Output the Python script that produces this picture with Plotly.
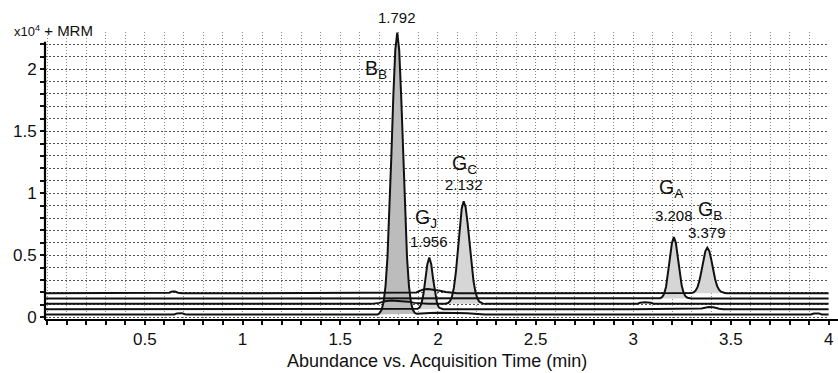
import plotly.graph_objects as go

# ---------------- data (abundance in x10^4 counts, time in min) ----------------
# Trace 1 (top): G_B transition
t_gb = [-0.01, 0.5, 0.60, 0.625, 0.64, 0.655, 0.67, 0.69, 1.0, 1.5, 1.87, 1.89, 1.91, 1.93, 1.95, 1.98,
        2.01, 2.04, 2.07, 2.10, 2.5, 3.0, 3.289, 3.299, 3.309, 3.319, 3.329, 3.339, 3.349, 3.359, 3.369,
        3.379, 3.389, 3.399, 3.409, 3.419, 3.429, 3.439, 3.449, 3.459, 3.469, 3.479, 3.6, 4.0]
a_gb = [0.194, 0.194, 0.194, 0.198, 0.207, 0.207, 0.198, 0.194, 0.194, 0.194, 0.194, 0.200, 0.215, 0.226, 0.228, 0.224,
        0.214, 0.203, 0.196, 0.194, 0.194, 0.194, 0.194, 0.196, 0.201, 0.214, 0.243, 0.296, 0.372, 0.460, 0.532,
        0.560, 0.535, 0.468, 0.383, 0.308, 0.253, 0.222, 0.206, 0.199, 0.196, 0.194, 0.194, 0.194]

# Trace 2: G_A transition
t_ga = [-0.01, 1.0, 2.0, 3.0, 3.128, 3.138, 3.148, 3.158, 3.168, 3.178, 3.188, 3.198, 3.208, 3.218,
        3.228, 3.238, 3.248, 3.258, 3.268, 3.278, 3.288, 3.298, 3.6, 4.0]
a_ga = [0.151, 0.151, 0.151, 0.151, 0.151, 0.154, 0.163, 0.188, 0.246, 0.347, 0.479, 0.598, 0.647, 0.600,
        0.484, 0.355, 0.255, 0.196, 0.168, 0.157, 0.152, 0.151, 0.151, 0.151]

# Trace 3: G_C transition
t_gc = [-0.01, 1.0, 1.66, 1.70, 1.73, 1.76, 1.80, 1.85, 1.88, 1.91, 1.95, 2.032, 2.042, 2.052, 2.062, 2.072,
        2.082, 2.092, 2.102, 2.112, 2.122, 2.132, 2.142, 2.152, 2.162, 2.172, 2.182, 2.192, 2.202, 2.212,
        2.222, 2.232, 2.242, 3.0, 3.02, 3.035, 3.06, 3.09, 3.105, 3.5, 4.0]
a_gc = [0.108, 0.108, 0.108, 0.116, 0.130, 0.136, 0.134, 0.126, 0.116, 0.110, 0.108, 0.108, 0.110, 0.115, 0.130, 0.166,
        0.238, 0.361, 0.533, 0.723, 0.876, 0.935, 0.887, 0.760, 0.593, 0.428, 0.295, 0.205, 0.153, 0.126,
        0.115, 0.110, 0.108, 0.108, 0.108, 0.117, 0.121, 0.117, 0.108, 0.108, 0.108]

# Trace 4: G_J transition
t_gj = [-0.01, 1.0, 1.886, 1.896, 1.906, 1.916, 1.926, 1.936, 1.946, 1.956, 1.966, 1.976, 1.986, 1.996,
        2.006, 2.016, 2.026, 3.0, 3.32, 3.35, 3.385, 3.41, 3.44, 3.46, 4.0]
a_gj = [0.065, 0.065, 0.065, 0.068, 0.078, 0.110, 0.185, 0.304, 0.428, 0.482, 0.428, 0.304, 0.185, 0.110,
        0.078, 0.068, 0.065, 0.065, 0.065, 0.071, 0.083, 0.080, 0.068, 0.065, 0.065]

# Trace 5 (bottom): B_B transition
t_bb = [-0.01, 0.65, 0.665, 0.69, 0.705, 0.72, 1.0, 1.692, 1.702, 1.712, 1.722, 1.732, 1.742, 1.752, 1.762,
        1.772, 1.782, 1.792, 1.802, 1.812, 1.822, 1.832, 1.842, 1.852, 1.862, 1.872, 1.882, 1.892, 1.92,
        1.96, 2.0, 2.05, 2.1, 2.15, 2.2, 2.24, 3.0, 3.91, 3.925, 3.95, 3.965, 3.98, 4.0]
a_bb = [0.022, 0.022, 0.031, 0.033, 0.024, 0.022, 0.022, 0.022, 0.035, 0.060, 0.122, 0.251, 0.484, 0.842, 1.305,
        1.787, 2.155, 2.294, 2.155, 1.787, 1.305, 0.842, 0.484, 0.251, 0.122, 0.060, 0.035, 0.028, 0.028,
        0.034, 0.036, 0.032, 0.034, 0.033, 0.030, 0.022, 0.022, 0.022, 0.030, 0.031, 0.023, 0.022, 0.022]

peak_names = ["G<sub>B</sub>", "G<sub>A</sub>", "G<sub>C</sub>", "G<sub>J</sub>", "B<sub>B</sub>"]
peak_rts = [3.379, 3.208, 2.132, 1.956, 1.792]
peak_windows = [(3.289, 3.479), (3.128, 3.298), (2.032, 2.242), (1.886, 2.026), (1.692, 1.892)]

x_tick_vals = [0.5, 1.0, 1.5, 2.0, 2.5, 3.0, 3.5, 4.0]
x_tick_labels = ["0.5", "1", "1.5", "2", "2.5", "3", "3.5", "4"]
y_tick_vals = [0.0, 0.5, 1.0, 1.5, 2.0]
y_tick_labels = ["0", "0.5", "1", "1.5", "2"]

series = [(t_gb, a_gb), (t_ga, a_ga), (t_gc, a_gc), (t_gj, a_gj), (t_bb, a_bb)]

# ---------------- figure ----------------
FONT = "Liberation Sans, Arial, Helvetica, sans-serif"
INK = "#111111"
fig = go.Figure()

fill_colors = ["#d6d6d6", "#d6d6d6", "#d6d6d6", "#d6d6d6", "#bcbcbc"]
for (t, a), (s, e), fc in zip(series, peak_windows, fill_colors):
    xs = [ti for ti in t if s <= ti <= e]
    ys = [ai for ti, ai in zip(t, a) if s <= ti <= e]
    fig.add_trace(go.Scatter(x=xs + [xs[-1], xs[0]], y=ys + [ys[-1], ys[0]], fill="toself",
                             fillcolor=fc, mode="lines", line=dict(width=0),
                             hoverinfo="skip", showlegend=False))

for t, a in series:
    fig.add_trace(go.Scatter(x=t, y=a, mode="lines", line=dict(color=INK, width=2),
                             showlegend=False))

fig.update_xaxes(range=[-0.011, 4.002], tickmode="array", tickvals=x_tick_vals, ticktext=x_tick_labels,
                 ticks="outside", ticklen=4, tickwidth=1.5, tickcolor=INK,
                 showgrid=True, gridcolor="#8a8a8a", griddash="1px,2px", gridwidth=1,
                 minor=dict(dtick=0.1, tick0=0, ticks="outside", ticklen=4, tickwidth=1.5, tickcolor=INK,
                            showgrid=True, gridcolor="#8a8a8a", griddash="1px,2px", gridwidth=1),
                 zeroline=False, showline=False, automargin=False,
                 tickfont=dict(size=17, family=FONT, color=INK))
fig.update_yaxes(range=[-0.022, 2.299], tickmode="array", tickvals=y_tick_vals, ticktext=y_tick_labels,
                 ticks="outside", ticklen=4, tickwidth=1.5, tickcolor=INK,
                 showgrid=True, gridcolor="#555555", griddash="2px,2px", gridwidth=1,
                 minor=dict(dtick=0.1, tick0=0, ticks="outside", ticklen=4, tickwidth=1.5, tickcolor=INK,
                            showgrid=True, gridcolor="#555555", griddash="2px,2px", gridwidth=1),
                 zeroline=False, showline=False, automargin=False,
                 tickfont=dict(size=17, family=FONT, color=INK))

# axis lines
fig.add_shape(type="line", xref="paper", yref="y", x0=0, x1=0, y0=-0.022, y1=2.22,
              line=dict(color="#000", width=2.2))
fig.add_shape(type="line", xref="paper", yref="paper", x0=0, x1=1.012, y0=0, y1=0,
              line=dict(color="#000", width=2.2))

# peak annotations
num_shift = {3.379: 15, 3.208: 21, 2.132: 17, 1.956: 16, 1.792: 15}
name_shift = {3.379: (3, 37), 3.208: (-2, 48), 2.132: (1, 37), 1.956: (-3, 39), 1.792: (-21, -37)}
for (t, a), rt, name in zip(series, peak_rts, peak_names):
    apex = max(a)
    fig.add_annotation(x=rt, y=apex, text=f"{rt:.3f}", showarrow=False, yshift=num_shift[rt],
                       xanchor="center", yanchor="middle",
                       font=dict(size=15, family=FONT, color=INK))
    dx, dy = name_shift[rt]
    fig.add_annotation(x=rt, y=apex, text=name, showarrow=False, xshift=dx, yshift=dy,
                       xanchor="center", yanchor="middle",
                       font=dict(size=19.5, family=FONT, color=INK))

fig.add_annotation(xref="paper", yref="paper", x=-0.0421, y=1.0035, xanchor="left", yanchor="middle",
                   text='<span style="font-size:13px">x10<sup>4</sup></span> + MRM', showarrow=False,
                   font=dict(size=15, family=FONT, color=INK))

fig.add_annotation(xref="paper", yref="paper", x=(437 - 45) / 784, y=-0.1424, xanchor="center",
                   yanchor="middle", text="Abundance vs. Acquisition Time (min)", showarrow=False,
                   font=dict(size=18, family=FONT, color=INK))

fig.update_layout(width=838, height=373, margin=dict(l=45, r=9, t=32, b=53),
                  paper_bgcolor="white", plot_bgcolor="white", showlegend=False)

fig.write_html("out.html", config={"displayModeBar": False},
               post_script="document.body.style.margin='0px';document.body.style.overflow='hidden';")
